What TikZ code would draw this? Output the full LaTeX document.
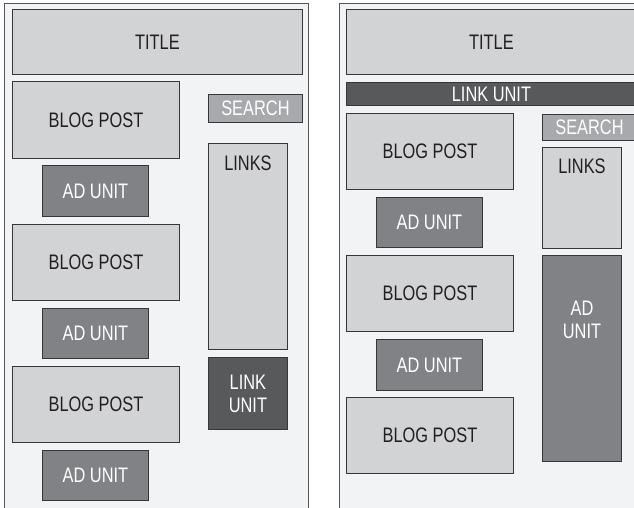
\documentclass[tikz,border=0pt]{standalone}
\usepackage{fontspec}
\setmainfont{Liberation Sans}[FakeStretch=0.78]
\usepackage{tikz}
\definecolor{bgpale}{RGB}{242,243,245}
\definecolor{pale}{RGB}{210,211,213}
\definecolor{srchgray}{RGB}{167,169,172}
\definecolor{adgray}{RGB}{128,130,133}
\definecolor{linkgray}{RGB}{88,89,91}
\definecolor{edge}{RGB}{55,55,57}
\definecolor{ink}{RGB}{35,31,32}
\newcommand\uifont{\fontsize{21}{23}\selectfont}
\tikzset{
  box/.style={draw=edge,line width=0.9pt,align=center,font=\uifont,inner sep=0pt,anchor=north west,text=ink},
  sz/.style 2 args={minimum width=#1pt,minimum height=#2pt},
  pane/.style={box,fill=pale},
  ad/.style={box,fill=adgray,text=white},
  lnk/.style={box,fill=linkgray,text=white},
  srch/.style={box,fill=srchgray,text=white},
  toptext/.style={font=\uifont,inner sep=0pt,anchor=north,align=center},
  frame/.style={draw=edge!85,line width=1pt},
}
\begin{document}
\begin{tikzpicture}[x=1pt,y=-1pt]
  \fill[white] (0,0) rectangle (634,507);
  \useasboundingbox (0,0) rectangle (634,507);
  % left layout
  \fill[bgpale] (4,3) rectangle (308,512);
  \draw[frame] (4,512) -- (4,3) -- (308,3) -- (308,512);
  \node[pane,sz={290}{65}] (titleA) at (12,9) {TITLE};
  \node[pane,sz={167}{77}] (postA1) at (12,81) {BLOG POST};
  \node[srch,sz={94}{28}] (searchA) at (208,94) {SEARCH};
  \node[pane,sz={79}{206},label={[toptext,text=ink,yshift=-13pt]north:LINKS}] (linksA) at (208,143) {};
  \node[ad,sz={106}{51}] (adA1) at (42,165) {AD UNIT};
  \node[pane,sz={167}{76}] (postA2) at (12,224) {BLOG POST};
  \node[ad,sz={106}{50}] (adA2) at (42,308) {AD UNIT};
  \node[pane,sz={167}{76}] (postA3) at (12,366) {BLOG POST};
  \node[ad,sz={106}{50}] (adA3) at (42,450) {AD UNIT};
  \node[lnk,sz={79}{72}] (linkA) at (208,357) {LINK\\UNIT};
  % right layout
  \fill[bgpale] (339,3) rectangle (640,512);
  \draw[frame] (339,512) -- (339,3) -- (640,3);
  \node[pane,sz={290}{65}] (titleB) at (346,9) {TITLE};
  \node[lnk,sz={290}{23}] (linkB) at (346,82) {LINK UNIT};
  \node[pane,sz={167}{76}] (postB1) at (346,113) {BLOG POST};
  \node[srch,sz={94}{26}] (searchB) at (542,114) {SEARCH};
  \node[pane,sz={79}{101},label={[toptext,text=ink,yshift=-12pt]north:LINKS}] (linksB) at (542,147) {};
  \node[ad,sz={106}{50}] (adB1) at (376,197) {AD UNIT};
  \node[pane,sz={167}{76}] (postB2) at (346,255) {BLOG POST};
  \node[ad,sz={79}{206},label={[toptext,text=white,yshift=-46pt]north:{AD\\UNIT}}] (adB3) at (542,255) {};
  \node[ad,sz={106}{51}] (adB2) at (376,339) {AD UNIT};
  \node[pane,sz={167}{76}] (postB3) at (346,397) {BLOG POST};
\end{tikzpicture}
\end{document}
